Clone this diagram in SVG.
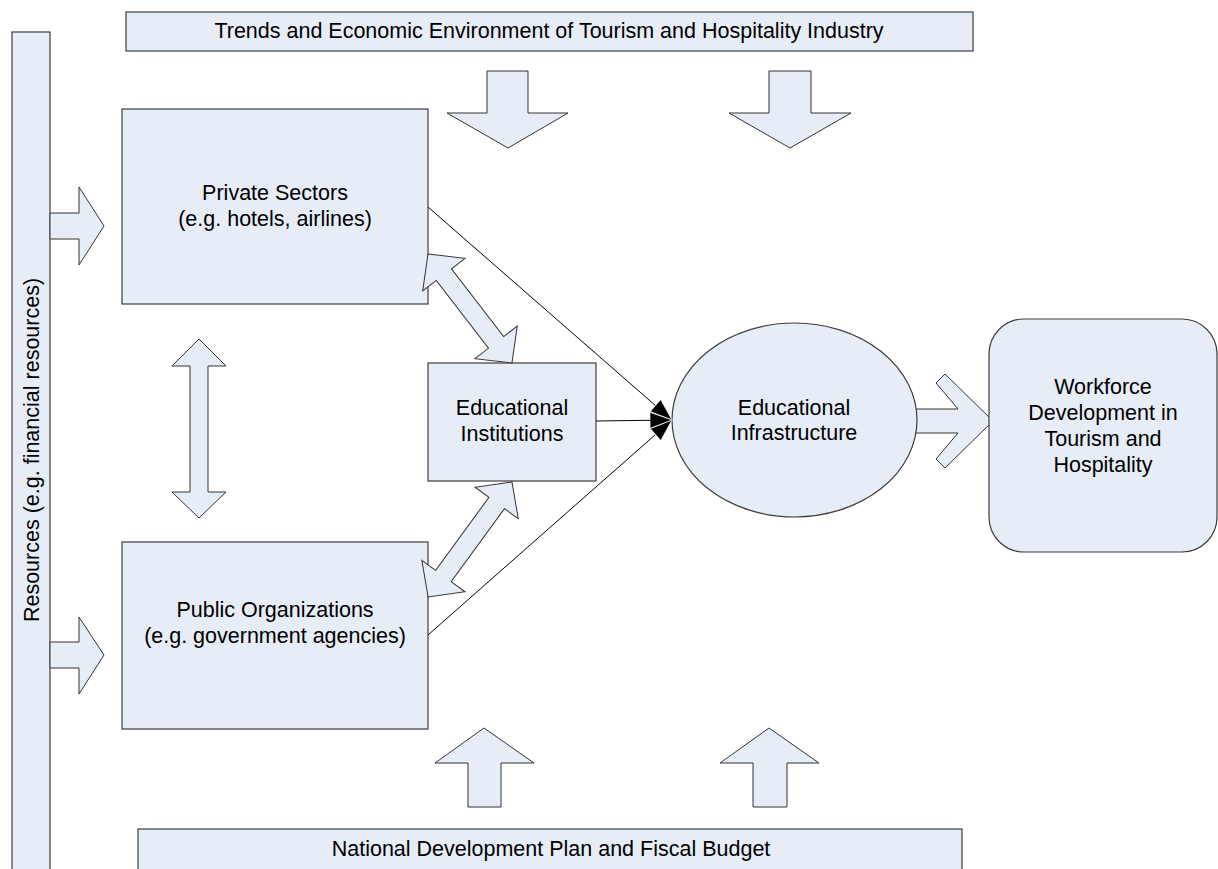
<svg xmlns="http://www.w3.org/2000/svg" width="1218" height="869" viewBox="0 0 1218 869">
<style>
.shape{fill:#e7edf7;stroke:#3c3c3c;stroke-width:1.2}
.barr{fill:#e7edf7;stroke:#333;stroke-width:1}
.line{fill:none;stroke:#000;stroke-width:1}
text{font-family:"Liberation Sans",Arial,sans-serif;font-size:21.5px;fill:#000;text-anchor:middle}
</style>
<defs>
<marker id="ah" markerUnits="userSpaceOnUse" markerWidth="30" markerHeight="24" refX="22" refY="9" orient="auto" viewBox="0 0 30 18">
<path d="M0,1 L22,9 L0,17 Z" fill="#000" stroke="#fff" stroke-width="0.7"/>
</marker>
</defs>
<rect width="1218" height="869" fill="#fff"/>

<g id="resources">
<rect class="shape" x="12" y="32" width="38" height="850"/>
<text transform="translate(38.5,450) rotate(-90)">Resources (e.g. financial resources)</text>
</g>
<g id="trends">
<rect class="shape" x="126" y="12" width="847" height="39"/>
<text x="549" y="38">Trends and Economic Environment of Tourism and Hospitality Industry</text>
</g>
<g id="national">
<rect class="shape" x="138" y="829" width="824" height="45"/>
<text x="551" y="856">National Development Plan and Fiscal Budget</text>
</g>
<g id="private">
<rect class="shape" x="122" y="109" width="306" height="195"/>
<text x="275" y="200">Private Sectors</text>
<text x="275" y="226">(e.g. hotels, airlines)</text>
</g>
<g id="public">
<rect class="shape" x="122" y="542" width="306" height="187"/>
<text x="275" y="617">Public Organizations</text>
<text x="275" y="643">(e.g. government agencies)</text>
</g>
<g id="institutions">
<rect class="shape" x="428" y="363" width="168" height="118"/>
<text x="512" y="415">Educational</text>
<text x="512" y="441">Institutions</text>
</g>
<g id="connectors">
<path class="barr" d="M905,409 L958,409 L936,383 L945,374 L993,421 L945,468 L936,459 L958,433 L905,433 Z"/>
<path class="barr" d="M50,213 L79,213 L79,187 L104,226 L79,265 L79,239 L50,239 Z"/>
<path class="barr" d="M50,642 L79,642 L79,617 L104,655 L79,694 L79,668 L50,668 Z"/>
<path class="barr" d="M487,71 L528,71 L528,113 L568,113 L508,148 L447,113 L487,113 Z"/>
<path class="barr" d="M769,71 L811,71 L811,113 L851,113 L790,148 L729,113 L769,113 Z"/>
<path class="barr" d="M468,807 L468,763 L435,763 L484,728 L534,763 L501,763 L501,807 Z"/>
<path class="barr" d="M753,807 L753,763 L720,763 L769,728 L819,763 L787,763 L787,807 Z"/>
<path class="barr" d="M199,339 L226,366 L208,366 L208,492 L226,492 L199,518 L172,492 L190,492 L190,366 L172,366 Z"/>
<path class="barr" transform="translate(428,254) rotate(52.4)" d="M0,0 L26,-26.7 L26,-9.6 L111.6,-9.6 L111.6,-26.7 L137.6,0 L111.6,26.7 L111.6,9.6 L26,9.6 L26,26.7 Z"/>
<path class="barr" transform="translate(512,482) rotate(126.1)" d="M0,0 L26,-26.7 L26,-9.6 L116.4,-9.6 L116.4,-26.7 L142.4,0 L116.4,26.7 L116.4,9.6 L26,9.6 L26,26.7 Z"/>
</g>
<g id="infrastructure">
<ellipse class="shape" cx="794.5" cy="420" rx="122.5" ry="97"/>
<text x="794" y="415">Educational</text>
<text x="794" y="440">Infrastructure</text>
</g>
<g id="workforce">
<rect class="shape" x="989" y="319" width="228" height="233" rx="35" ry="35"/>
<text x="1103" y="394">Workforce</text>
<text x="1103" y="420">Development in</text>
<text x="1103" y="446">Tourism and</text>
<text x="1103" y="472">Hospitality</text>
</g>
<g id="lines">
<line class="line" x1="428" y1="207" x2="672" y2="420" marker-end="url(#ah)"/>
<line class="line" x1="428" y1="635" x2="672" y2="420" marker-end="url(#ah)"/>
<line class="line" x1="596" y1="421" x2="672" y2="420" marker-end="url(#ah)"/>
</g>
</svg>
